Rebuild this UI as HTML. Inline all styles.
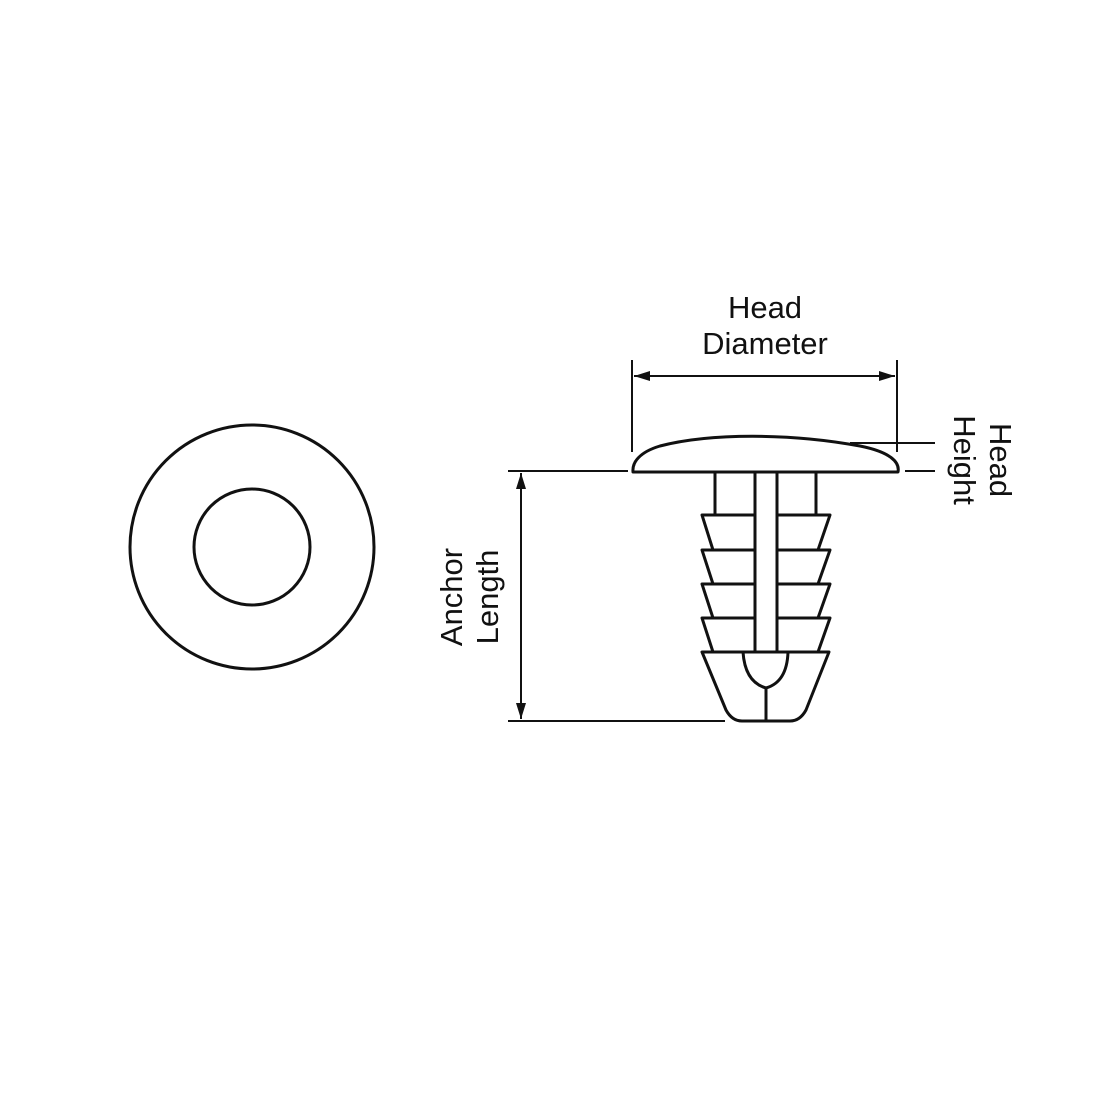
<!DOCTYPE html>
<html><head><style>body{margin:0;background:#fff}</style></head><body>
<svg width="1100" height="1100" viewBox="0 0 1100 1100" xmlns="http://www.w3.org/2000/svg" font-family="Liberation Sans, sans-serif">
<rect width="1100" height="1100" fill="#fff"/>
<defs><marker id="a" markerWidth="16" markerHeight="10" refX="16" refY="5" orient="auto-start-reverse" markerUnits="userSpaceOnUse"><path d="M0,0 L16,5 L0,10 Z" fill="#111"/></marker></defs>
<g stroke="#111" fill="none">
<circle cx="252" cy="547" r="122" stroke-width="3"/>
<circle cx="252" cy="547" r="58" stroke-width="3"/>
<g stroke-width="3" stroke-linejoin="round">
<path d="M633,472 L898,472 C900,462 890,452 860,446 C790,433 710,433 660,446 C640,452 632,462 633,472 Z"/>
<path d="M715,472 V515 M816,472 V515"/>
<rect x="755" y="472" width="22" height="180"/>
<path d="M755,515 H702 L713,550 H755 M777,515 H830 L818,550 H777"/>
<path d="M755,550 H702 L713,584 H755 M777,550 H830 L818,584 H777"/>
<path d="M755,584 H702 L713,618 H755 M777,584 H830 L818,618 H777"/>
<path d="M755,618 H702 L713,652 H755 M777,618 H830 L818,652 H777"/>
<path d="M702,652 H829 L806,710 Q800,721 790,721 H742 Q732,721 726,710 Z"/>
<path d="M743,652 Q745,682 766,688 Q787,682 788,652 M766,688 V721"/>
</g>
<g stroke-width="2">
<path d="M632,360 V452 M897,360 V452"/>
<line x1="634" y1="376" x2="895" y2="376" marker-start="url(#a)" marker-end="url(#a)"/>
<path d="M850,443 H935 M905,471 H935"/>
<path d="M508,471 H628 M508,721 H725"/>
<line x1="521" y1="473" x2="521" y2="719" marker-start="url(#a)" marker-end="url(#a)"/>
</g>
</g>
<g fill="#111" font-size="31" text-anchor="middle">
<text x="765" y="318">Head</text>
<text x="765" y="354">Diameter</text>
<text transform="translate(990,460) rotate(90)">Head</text>
<text transform="translate(954,460) rotate(90)">Height</text>
<text transform="translate(462,597) rotate(-90)">Anchor</text>
<text transform="translate(498,597) rotate(-90)">Length</text>
</g>
</svg>
</body></html>
